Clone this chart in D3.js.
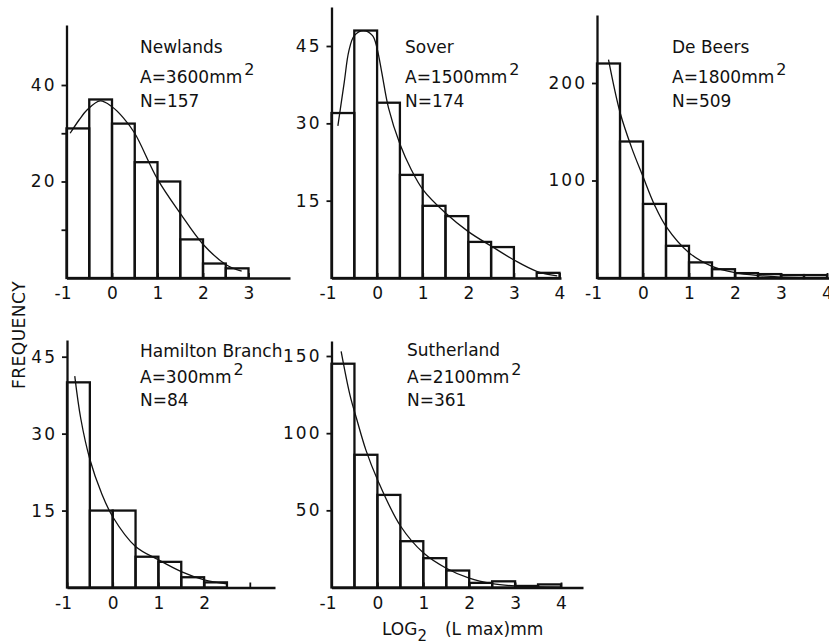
<!DOCTYPE html>
<html>
<head>
<meta charset="utf-8">
<script src="https://cdn.jsdelivr.net/npm/d3@7"></script>
<style>
  html, body { margin: 0; padding: 0; background: #fff; }
  svg text { font-family: "DejaVu Sans", sans-serif; fill: #111; }
</style>
</head>
<body>
<svg id="chart" width="829" height="644"></svg>
<script>
// ---------------- DATA ----------------
const binEdges = [-1, -0.5, 0, 0.5, 1, 1.5, 2, 2.5, 3, 3.5, 4];

const sites = ["Newlands", "Sover", "De Beers", "Hamilton Branch", "Sutherland"];
const areas = ["3600", "1500", "1800", "300", "2100"];
const counts = [157, 174, 509, 84, 361];

const newlandsFreq   = [31, 37, 32, 24, 20, 8, 3, 2];
const soverFreq      = [32, 48, 34, 20, 14, 12, 7, 6, 0, 1];
const deBeersFreq    = [220, 140, 76, 33, 16, 9, 5, 4, 3, 3];
const hamiltonFreq   = [40, 15, 15, 6, 5, 2, 1];
const sutherlandFreq = [145, 86, 60, 30, 19, 11, 3, 4, 1, 2];

// fitted curves
const newlandsFitX = [-0.92, -0.72, -0.55, -0.26, 0, 0.25, 0.5, 1, 1.5, 2, 2.5, 2.85];
const newlandsFitY = [30, 32.8, 34.8, 36.7, 35.5, 33.2, 30, 20.5, 13.4, 7, 2.8, 1.4];
const soverFitX = [-0.86, -0.72, -0.62, -0.5, -0.3, -0.1, 0, 0.1, 0.25, 0.5, 0.75, 1, 1.5, 2, 2.5, 3, 3.5, 3.95];
const soverFitY = [29.5, 38, 44, 47, 48, 47, 44.5, 40, 33, 26, 21, 17.2, 12.6, 9, 6.2, 3.5, 1.3, 0.4];
const deBeersFitX = [-0.75, -0.5, -0.25, 0, 0.25, 0.5, 1, 1.5, 2, 2.5, 3, 4];
const deBeersFitY = [224, 170, 134, 104, 75, 53, 26, 12, 5.5, 2.5, 1, 0.2];
const hamiltonFitX = [-0.83, -0.7, -0.5, -0.25, 0, 0.5, 1, 1.5, 2, 2.5];
const hamiltonFitY = [41.2, 33, 25, 18.5, 13.8, 8, 5.4, 3.1, 1.5, 0.7];
const sutherlandFitX = [-0.79, -0.6, -0.45, -0.25, 0, 0.5, 1, 1.5, 2, 2.5, 3, 4];
const sutherlandFitY = [153, 125, 109, 89, 70, 40, 22.5, 12.5, 6, 2.5, 1, 0];

// axis ticks
const newlandsYTicks = [10, 20, 30, 40];   const newlandsYLabels = [20, 40];
const soverYTicks = [15, 30, 45];          const soverYLabels = [15, 30, 45];
const deBeersYTicks = [100, 200];          const deBeersYLabels = [100, 200];
const hamiltonYTicks = [15, 30, 45];       const hamiltonYLabels = [15, 30, 45];
const sutherlandYTicks = [50, 100, 150];   const sutherlandYLabels = [50, 100, 150];

const newlandsXTicks = [-1, 0, 1, 2, 3];       const newlandsXLabels = [-1, 0, 1, 2, 3];
const soverXTicks = [-1, 0, 1, 2, 3, 4];       const soverXLabels = [-1, 0, 1, 2, 3, 4];
const deBeersXTicks = [-1, 0, 1, 2, 3, 4];     const deBeersXLabels = [-1, 0, 1, 2, 3, 4];
const hamiltonXTicks = [-1, 0, 1, 2, 3];       const hamiltonXLabels = [-1, 0, 1, 2];
const sutherlandXTicks = [-1, 0, 1, 2, 3, 4];  const sutherlandXLabels = [-1, 0, 1, 2, 3, 4];

// ---------------- LAYOUT ----------------
const panels = [
  { freq: newlandsFreq, fx: newlandsFitX, fy: newlandsFitY, yT: newlandsYTicks, yL: newlandsYLabels, xT: newlandsXTicks, xL: newlandsXLabels,
    x0: 66.5, xUnit: 45.5, xEndPx: 290, base: 278, yRef: 40, yRefPx: 85, topPx: 25, lx: 140, ly: [53, 83, 107] },
  { freq: soverFreq, fx: soverFitX, fy: soverFitY, yT: soverYTicks, yL: soverYLabels, xT: soverXTicks, xL: soverXLabels,
    x0: 331.5, xUnit: 45.6, xEndPx: 561, base: 278, yRef: 45, yRefPx: 46, topPx: 7, lx: 405, ly: [53, 83, 107] },
  { freq: deBeersFreq, fx: deBeersFitX, fy: deBeersFitY, yT: deBeersYTicks, yL: deBeersYLabels, xT: deBeersXTicks, xL: deBeersXLabels,
    x0: 597, xUnit: 46, xEndPx: 829, base: 278, yRef: 200, yRefPx: 83, topPx: 15, lx: 672, ly: [53, 83, 107] },
  { freq: hamiltonFreq, fx: hamiltonFitX, fy: hamiltonFitY, yT: hamiltonYTicks, yL: hamiltonYLabels, xT: hamiltonXTicks, xL: hamiltonXLabels,
    x0: 67, xUnit: 45.7, xEndPx: 275, base: 587.5, yRef: 45, yRefPx: 356.7, topPx: 340, lx: 140, ly: [357, 383, 406] },
  { freq: sutherlandFreq, fx: sutherlandFitX, fy: sutherlandFitY, yT: sutherlandYTicks, yL: sutherlandYLabels, xT: sutherlandXTicks, xL: sutherlandXLabels,
    x0: 331.5, xUnit: 45.9, xEndPx: 583, base: 587.5, yRef: 150, yRefPx: 356, topPx: 341, lx: 407, ly: [356, 383, 406] }
];

const svg = d3.select("#chart");
const FS = 17;

panels.forEach((p, i) => {
  const xEndVal = -1 + (p.xEndPx - p.x0) / p.xUnit;
  const x = d3.scaleLinear().domain([-1, xEndVal]).range([p.x0, p.xEndPx]);
  const yUnit = (p.base - p.yRefPx) / p.yRef;
  const yTopVal = (p.base - p.topPx) / yUnit;
  const y = d3.scaleLinear().domain([0, yTopVal]).range([p.base, p.topPx]);

  const g = svg.append("g");

  // bars
  const bars = p.freq.map((v, j) => ({ x0: binEdges[j], x1: binEdges[j + 1], v }))
                     .filter(d => d.v > 0);
  g.selectAll("rect.bar").data(bars).join("rect")
    .attr("class", "bar")
    .attr("x", d => x(d.x0))
    .attr("width", d => x(d.x1) - x(d.x0))
    .attr("y", d => y(d.v))
    .attr("height", d => y(0) - y(d.v))
    .attr("fill", "none")
    .attr("stroke", "#111")
    .attr("stroke-width", 2.3);

  // fitted curve
  const pts = p.fx.map((xv, j) => [xv, p.fy[j]]);
  g.append("path")
    .datum(pts)
    .attr("d", d3.line().x(d => x(d[0])).y(d => y(d[1])).curve(d3.curveCatmullRom.alpha(0.5)))
    .attr("fill", "none")
    .attr("stroke", "#111")
    .attr("stroke-width", 1.3);

  // y axis
  const yAxis = d3.axisLeft(y)
    .tickValues(p.yT)
    .tickSizeInner(5).tickSizeOuter(0).tickPadding(5)
    .tickFormat(d => p.yL.includes(d) ? String(d) : "");
  const ga = g.append("g").attr("transform", `translate(${x(-1)},0)`).call(yAxis);
  ga.select(".domain").attr("stroke", "#111").attr("stroke-width", 2.3);
  ga.selectAll(".tick line").attr("stroke", "#111").attr("stroke-width", 1.8);
  ga.selectAll(".tick text").attr("font-size", FS).attr("letter-spacing", "2px")
    .attr("font-family", "DejaVu Sans").attr("fill", "#111");

  // x axis
  const xAxis = d3.axisBottom(x)
    .tickValues(p.xT)
    .tickSizeInner(-5).tickSizeOuter(0).tickPadding(9)
    .tickFormat(d => p.xL.includes(d) ? (d < 0 ? "-" + Math.abs(d) : String(d)) : "");
  const gx = g.append("g").attr("transform", `translate(0,${y(0)})`).call(xAxis);
  gx.select(".domain").attr("stroke", "#111").attr("stroke-width", 2.3);
  gx.selectAll(".tick line").attr("stroke", "#111").attr("stroke-width", 1.8);
  gx.selectAll(".tick text").attr("font-size", FS)
    .attr("font-family", "DejaVu Sans").attr("fill", "#111")
    .attr("dx", d => d < 0 ? -4 : 0);

  // annotation
  const t = g.append("g").attr("font-size", FS);
  t.append("text").attr("x", p.lx).attr("y", p.ly[0]).text(sites[i]);
  const a = t.append("text").attr("x", p.lx).attr("y", p.ly[1]);
  a.append("tspan").text("A=" + areas[i] + "mm");
  a.append("tspan").attr("dy", -8).attr("dx", 2).attr("font-size", 16).text("2");
  t.append("text").attr("x", p.lx).attr("y", p.ly[2]).text("N=" + counts[i]);
});

// axis titles
svg.append("text")
  .attr("transform", "translate(25,335) rotate(-90)")
  .attr("text-anchor", "middle")
  .attr("font-size", FS)
  .attr("letter-spacing", "0.5px")
  .text("FREQUENCY");

const xt = svg.append("text").attr("x", 382).attr("y", 635).attr("font-size", FS);
xt.append("tspan").text("LOG");
xt.append("tspan").attr("dy", 6).attr("font-size", 15).text("2");
xt.append("tspan").attr("dy", -6).attr("dx", 18).text("(L max)mm");
</script>
</body>
</html>
